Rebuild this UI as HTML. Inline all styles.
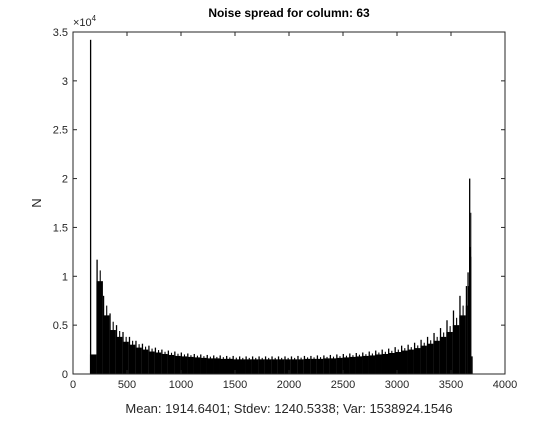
<!DOCTYPE html>
<html><head><meta charset="utf-8"><style>
html,body{margin:0;padding:0;background:#fff;}
svg text{font-family:"Liberation Sans",sans-serif;fill:#262626;}
</style></head><body>
<svg id="chart" width="560" height="420" xmlns="http://www.w3.org/2000/svg">
<rect x="73" y="32" width="432" height="342" fill="#fff"/>
<g id="bars"></g>
<g id="axes"></g>
<rect x="73" y="32" width="432" height="342" fill="none" stroke="#262626" stroke-width="1"/>
<text x="289" y="17" text-anchor="middle" font-size="12" font-weight="bold" style="fill:#000">Noise spread for column: 63</text>
<text x="289" y="413" text-anchor="middle" font-size="13">Mean: 1914.6401; Stdev: 1240.5338; Var: 1538924.1546</text>
<text x="41" y="203" text-anchor="middle" font-size="13" transform="rotate(-90 41 203)">N</text>
<text x="73" y="26" font-size="11">×10<tspan font-size="8" dy="-5">4</tspan></text>
</svg>
<script>
const edges = [157,217,277,337,397,457,517,577,637,697,
757,817,877,937,997,1057,1117,1177,1237,1297,
1357,1417,1477,1537,1597,1657,1717,1777,1837,1897,
1957,2017,2077,2137,2197,2257,2317,2377,2437,2497,
2557,2617,2677,2737,2797,2857,2917,2977,3037,3097,
3157,3217,3277,3337,3397,3457,3517,3577,3637,
3652,3667,3680,3688,3700];
const highs = [34200,11700,8000,6200,5000,4300,3800,3400,3100,2900,
2700,2500,2400,2300,2200,2100,2050,2000,1950,1900,
1900,1850,1850,1800,1800,1800,1800,1800,1800,1800,
1800,1800,1850,1850,1850,1900,1900,1950,2000,2050,
2100,2150,2200,2300,2400,2500,2600,2750,2900,3000,
3200,3500,3800,4200,4700,5500,6500,8000,
9000,10400,20000,16500,1800];
const lows = [2000,9500,6000,4500,3800,3300,3000,2700,2500,2300,
2200,2050,1950,1850,1800,1750,1700,1650,1600,1600,
1550,1550,1500,1500,1500,1500,1500,1500,1500,1500,
1500,1500,1500,1550,1550,1550,1600,1600,1650,1700,
1750,1800,1850,1900,2000,2050,2150,2250,2400,2500,
2650,2900,3100,3400,3800,4300,5000,6000,
7000,9000,13000,12000,1800];
const xTicks = [0,500,1000,1500,2000,2500,3000,3500,4000];
const yTicks = [0,0.5,1,1.5,2,2.5,3,3.5];

const X0=73,X1=505,Y0=374,Y1=32,XMAX=4000,YMAX=35000;
function sx(v){return X0+(v/XMAX)*(X1-X0);}
function sy(v){return Y0-(v/YMAX)*(Y0-Y1);}
const NS="http://www.w3.org/2000/svg";
const bars=document.getElementById('bars');
const axes=document.getElementById('axes');
function rect(x,y,w,h,f){const r=document.createElementNS(NS,'rect');r.setAttribute('x',x);r.setAttribute('y',y);r.setAttribute('width',Math.max(w,0));r.setAttribute('height',Math.max(h,0));r.setAttribute('fill',f||'#000');return r;}
for(let i=0;i<highs.length;i++){
  const xa=sx(edges[i]), xb=sx(edges[i+1]);
  const lo=rect(xa,sy(lows[i]),xb-xa,Y0-sy(lows[i]));
  
  
  bars.appendChild(lo);
  const sw=Math.min(1.3,xb-xa);
  const hi=rect(xa,sy(highs[i]),sw,Y0-sy(highs[i]));
  
  
  bars.appendChild(hi);
  if(i>0 && xb-xa>4){
    const mid=(xa+xb)/2;
    const hi2=rect(mid,sy((highs[i]+lows[i])/2),1.1,Y0-sy((highs[i]+lows[i])/2));
    
    
    bars.appendChild(hi2);
  }
}
function line(x1,y1,x2,y2){const l=document.createElementNS(NS,'line');l.setAttribute('x1',x1);l.setAttribute('y1',y1);l.setAttribute('x2',x2);l.setAttribute('y2',y2);l.setAttribute('stroke','#262626');return l;}
function text(x,y,s,anchor){const t=document.createElementNS(NS,'text');t.setAttribute('x',x);t.setAttribute('y',y);t.setAttribute('font-size','11');t.setAttribute('text-anchor',anchor);t.textContent=s;return t;}
xTicks.forEach(v=>{
  const x=sx(v);
  const t1=line(x,Y0,x,Y0-4);
  
  
  axes.appendChild(t1);
  const t2=line(x,Y1,x,Y1+4);
  
  
  axes.appendChild(t2);
  const lb=text(x,Y0+14,String(v),'middle');
  
  
  axes.appendChild(lb);
});
yTicks.forEach(v=>{
  const y=sy(v*10000);
  const t1=line(X0,y,X0+4,y);
  
  
  axes.appendChild(t1);
  const t2=line(X1,y,X1-4,y);
  
  
  axes.appendChild(t2);
  const lb=text(X0-5,y+4,String(v),'end');
  
  
  axes.appendChild(lb);
});
</script>
</body></html>
